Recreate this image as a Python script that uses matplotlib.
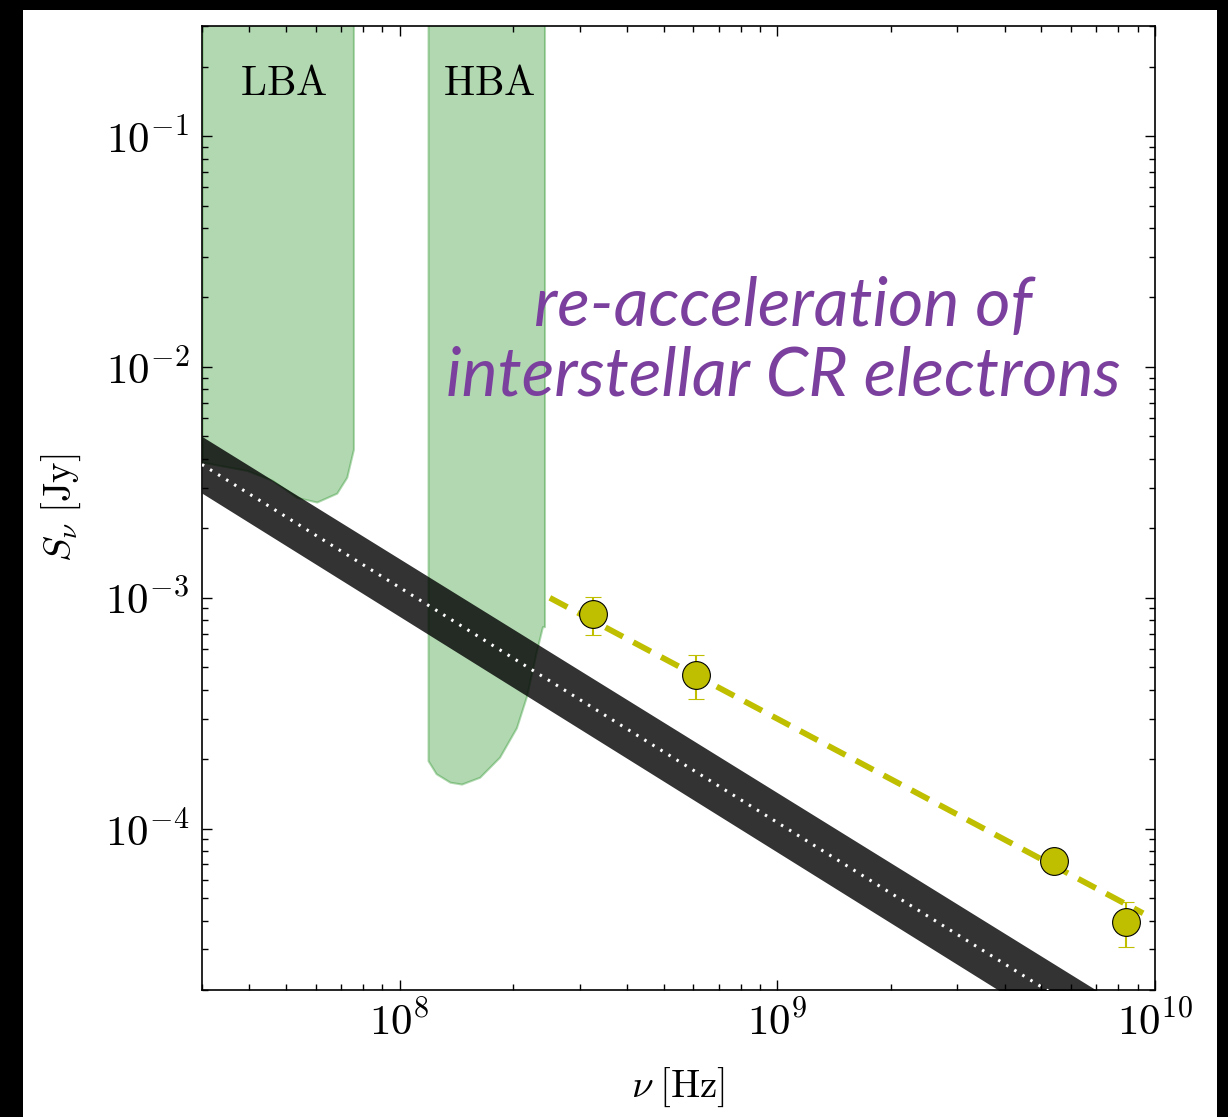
import matplotlib
matplotlib.use("Agg")
import matplotlib.pyplot as plt
import matplotlib.ticker as mticker
from matplotlib.patches import Rectangle
import numpy as np

# LOFAR bands: lower limit of the green region (nu in Hz, S in Jy)
lba_nu = [3.0e7, 3.95e7, 4.6e7, 5.35e7, 6.04e7, 6.82e7, 7.25e7, 7.55e7]
lba_low = [3.87e-3, 3.56e-3, 3.23e-3, 2.72e-3, 2.6e-3, 2.84e-3, 3.33e-3, 4.4e-3]
hba_nu = [1.19e8, 1.25e8, 1.36e8, 1.46e8, 1.63e8, 1.84e8, 2.04e8, 2.17e8, 2.30e8, 2.39e8, 2.42e8]
hba_low = [1.97e-4, 1.73e-4, 1.59e-4, 1.56e-4, 1.67e-4, 2.04e-4, 2.74e-4, 3.76e-4, 5.8e-4, 7.5e-4, 7.5e-4]
band_top = 1.0

# model band (power law), read at both ends
model_nu = [3.0e7, 1.0e10]
model_hi = [5.0e-3, 1.39e-5]
model_mid = [3.78e-3, 1.02e-5]
model_lo = [2.84e-3, 7.54e-6]

# measured flux densities
obs_nu = [3.25e8, 6.1e8, 5.4e9, 8.4e9]
obs_S = [8.5e-4, 4.65e-4, 7.25e-5, 3.95e-5]
obs_err = [1.6e-4, 1.0e-4, 5e-6, 8.7e-6]

# fitted line through the points
fit_nu = [2.5e8, 9.3e9]
fit_S = [1.0e-3, 4.3e-5]

plt.rcParams['mathtext.fontset'] = 'cm'
plt.rcParams['font.family'] = ['DejaVu Serif']

fig = plt.figure(figsize=(12.28, 11.17), dpi=100)
fig.patch.set_facecolor('black')
# white page inside the black frame
fig.patches.append(Rectangle((23 / 1228, 0), (1217 - 23) / 1228, 1 - 10 / 1117,
                             transform=fig.transFigure, facecolor='white',
                             edgecolor='none', zorder=-1))

ax = fig.add_axes([202 / 1228, 1 - 990 / 1117, (1155 - 202) / 1228, (990 - 26) / 1117])
ax.set_xscale('log')
ax.set_yscale('log')
ax.set_xlim(3e7, 1e10)
ax.set_ylim(2e-5, 0.3)

# green bands
ax.fill_between(lba_nu, lba_low, band_top, color='g', alpha=0.3, lw=1.5, zorder=1)
ax.fill_between(hba_nu, hba_low, band_top, color='g', alpha=0.3, lw=1.5, zorder=1)
ax.text(4.93e7, 0.17, r'$\mathrm{LBA}$', fontsize=30, ha='center', va='center')
ax.text(1.73e8, 0.17, r'$\mathrm{HBA}$', fontsize=30, ha='center', va='center')

# model band
ax.fill_between(model_nu, model_lo, model_hi, color='k', alpha=0.8, lw=0, zorder=2)
ax.plot(model_nu, model_mid, color='white', lw=2.2, dashes=(0.8, 2.3), zorder=3)

# fit and data
ax.plot(fit_nu, fit_S, color='y', lw=4.2, dashes=(3.4, 2.0), zorder=4)
ax.errorbar(obs_nu, obs_S, yerr=obs_err, fmt='o', color='y', ms=20,
            mec='k', mew=0.8, ecolor='y', elinewidth=1.5, capsize=6,
            capthick=1.5, zorder=5)

ax.text(0.61, 0.672, 're-acceleration of\ninterstellar CR electrons',
        transform=ax.transAxes, ha='center', va='center', fontsize=49,
        family='Lato', style='italic', color='#7B3F9E', linespacing=1.15)

# axes styling
fmt = mticker.FuncFormatter(lambda v, p: r'$10^{%d}$' % round(np.log10(v)))
ax.xaxis.set_major_formatter(fmt)
ax.yaxis.set_major_formatter(fmt)
ax.xaxis.set_minor_formatter(mticker.NullFormatter())
ax.yaxis.set_minor_formatter(mticker.NullFormatter())
ax.tick_params(which='both', direction='in', top=True, right=True, width=1)
ax.tick_params(which='major', length=7, labelsize=31, pad=9)
ax.tick_params(which='minor', length=4)
for s in ax.spines.values():
    s.set_linewidth(1.2)

ax.set_xlabel(r'$\nu\;[\mathrm{Hz}]$', fontsize=28)
ax.set_ylabel(r'$S_{\nu}\;[\mathrm{Jy}]$', fontsize=28)
ax.xaxis.set_label_coords(0.5, -0.078)
ax.yaxis.set_label_coords(-0.125, 0.5)

plt.savefig('out.png', dpi=100, facecolor=fig.get_facecolor())
